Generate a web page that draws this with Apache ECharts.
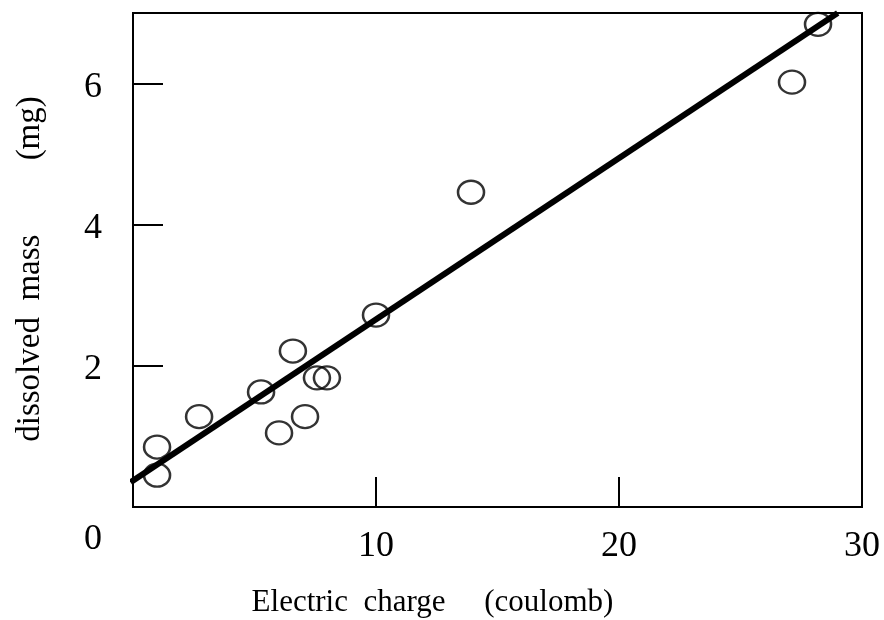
<!DOCTYPE html>
<html>
<head>
<meta charset="utf-8">
<script src="https://cdn.jsdelivr.net/npm/echarts@6/dist/echarts.min.js"></script>
<style>html,body{margin:0;padding:0;background:#fff}#c{width:884px;height:620px}</style>
</head>
<body>
<div id="c"></div>
<script>
// Measured points: electric charge (coulomb) vs dissolved mass (mg)
const charge = [0.99, 0.99, 2.72, 5.27, 6.58, 6.01, 7.08, 7.57, 7.98, 10.0, 13.91, 27.12, 28.19];
const mass   = [0.45, 0.85, 1.28, 1.63, 2.21, 1.05, 1.28, 1.83, 1.83, 2.72, 4.46, 6.02, 6.84];
// Fitted straight line endpoints
const fitX = [-0.1, 29.0];
const fitY = [0.35, 7.0];
const xTitle = 'Electric  charge     (coulomb)';
const yTitle = 'dissolved  mass         (mg)';

const FONT = 'Liberation Serif';
const chart = echarts.init(document.getElementById('c'), null, {renderer: 'canvas'});
chart.setOption({
  animation: false,
  backgroundColor: '#fff',
  grid: {left: 133, right: 22, top: 13, bottom: 113, show: true, borderColor: '#000', borderWidth: 2, containLabel: false, outerBoundsMode: 'none'},
  xAxis: {
    type: 'value', min: 0, max: 30, interval: 10,
    axisLine: {show: false},
    splitLine: {show: false},
    axisTick: {show: true, inside: true, length: 30, lineStyle: {color: '#000', width: 2}},
    axisLabel: {
      color: '#000', fontFamily: FONT, fontSize: 36, margin: 22,
      formatter: v => v === 0 ? '' : String(v)
    },
    name: xTitle, nameLocation: 'middle', nameGap: 80,
    nameTextStyle: {color: '#000', fontFamily: FONT, fontSize: 31, padding: [0, 130, 0, 0]}
  },
  yAxis: {
    type: 'value', min: 0, max: 7, interval: 2,
    axisLine: {show: false},
    splitLine: {show: false},
    axisTick: {show: true, inside: true, length: 30, lineStyle: {color: '#000', width: 2}},
    axisLabel: {
      color: '#000', fontFamily: FONT, fontSize: 36, margin: 31,
      padding: [8, 0, 0, 0],
      showMaxLabel: false,
      formatter: v => v === 0 ? '{z|0}' : (v === 7 ? '' : String(v)),
      rich: {z: {fontFamily: FONT, fontSize: 36, color: '#000', padding: [58, 0, 0, 0]}}
    },
    name: yTitle, nameLocation: 'middle', nameGap: 86,
    nameTextStyle: {color: '#000', fontFamily: FONT, fontSize: 33, padding: [0, 18, 0, 0]}
  },
  series: [
    {
      type: 'scatter',
      data: charge.map((c, i) => [c, mass[i]]),
      symbol: 'circle', symbolSize: [26, 23],
      itemStyle: {color: 'rgba(0,0,0,0)', borderColor: '#000', borderWidth: 2.4},
      emphasis: {disabled: true}, z: 2
    },
    {
      type: 'line',
      data: fitX.map((x, i) => [x, fitY[i]]),
      symbol: 'none', clip: false,
      lineStyle: {color: '#000', width: 6},
      emphasis: {disabled: true}, z: 3
    }
  ]
});
</script>
</body>
</html>
